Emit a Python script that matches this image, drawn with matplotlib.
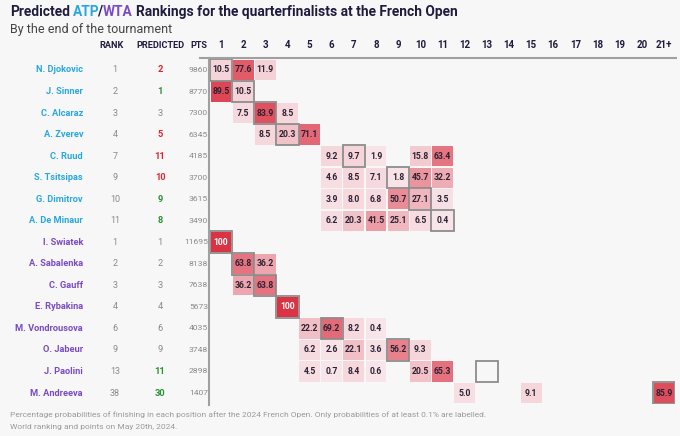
import matplotlib
matplotlib.use("Agg")
import matplotlib.pyplot as plt
from matplotlib.colors import LinearSegmentedColormap
from matplotlib.patches import Rectangle
from matplotlib.lines import Line2D
from matplotlib.transforms import blended_transform_factory

# data
players = ["N. Djokovic", "J. Sinner", "C. Alcaraz", "A. Zverev", "C. Ruud", "S. Tsitsipas",
           "G. Dimitrov", "A. De Minaur", "I. Swiatek", "A. Sabalenka", "C. Gauff", "E. Rybakina",
           "M. Vondrousova", "O. Jabeur", "J. Paolini", "M. Andreeva"]
tour = ["ATP"] * 8 + ["WTA"] * 8
rank = [1, 2, 3, 4, 7, 9, 10, 11, 1, 2, 3, 4, 6, 9, 13, 38]
predicted = [2, 1, 3, 5, 11, 10, 9, 8, 1, 2, 3, 4, 6, 9, 11, 30]
points = [9860, 8770, 7300, 6345, 4185, 3700, 3615, 3490, 11695, 8138, 7638, 5673, 4035, 3748, 2898, 1407]
positions = [str(i) for i in range(1, 21)] + ["21+"]

# probabilities: {position: pct} per player
probs = [
    {1: 10.5, 2: 77.6, 3: 11.9},
    {1: 89.5, 2: 10.5},
    {2: 7.5, 3: 83.9, 4: 8.5},
    {3: 8.5, 4: 20.3, 5: 71.1},
    {6: 9.2, 7: 9.7, 8: 1.9, 10: 15.8, 11: 63.4},
    {6: 4.6, 7: 8.5, 8: 7.1, 9: 1.8, 10: 45.7, 11: 32.2},
    {6: 3.9, 7: 8.0, 8: 6.8, 9: 50.7, 10: 27.1, 11: 3.5},
    {6: 6.2, 7: 20.3, 8: 41.5, 9: 25.1, 10: 6.5, 11: 0.4},
    {1: 100.0},
    {2: 63.8, 3: 36.2},
    {2: 36.2, 3: 63.8},
    {4: 100.0},
    {5: 22.2, 6: 69.2, 7: 8.2, 8: 0.4},
    {5: 6.2, 6: 2.6, 7: 22.1, 8: 3.6, 9: 56.2, 10: 9.3},
    {5: 4.5, 6: 0.7, 7: 8.4, 8: 0.6, 10: 20.5, 11: 65.3},
    {12: 5.0, 15: 9.1, 21: 85.9},
]

plt.rcParams["font.family"] = ["Roboto", "DejaVu Sans"]

BG = "#f7f7f7"
DARK = "#1f1b3d"
ATP_C = "#29a8e0"
WTA_C = "#7a4cc4"
GREY = "#8a8a8a"
cmap = LinearSegmentedColormap.from_list("pinkred", ["#f8e6ea", "#da3444"])

W, H = 680, 436
fig = plt.figure(figsize=(W / 100, H / 100), dpi=100, facecolor=BG)


def fx(px):
    return px / W


def fy(py):
    return 1 - py / H


# heatmap axes: col 1 centre ~221px, col 21+ centre ~664px; rows 70..393px
cw = (664 - 221) / 20
rh = (393 - 70) / 15
ax = fig.add_axes([fx(221 - cw / 2), fy(393 + rh / 2), fx(cw * 21), (rh * 16) / H])
ax.set_facecolor(BG)
ax.set_xlim(-0.5, 20.5)
ax.set_ylim(15.5, -0.5)
for s in ax.spines.values():
    s.set_visible(False)
ax.xaxis.tick_top()
ax.set_xticks(range(len(positions)))
ax.set_xticklabels(positions, fontsize=7, fontweight="bold", color=DARK)
ax.tick_params(axis="x", length=0, pad=6.5)
ax.set_yticks([])

for r, row in enumerate(probs):
    for pos, v in row.items():
        c = pos - 1
        ax.add_patch(Rectangle((c - 0.47, r - 0.47), 0.94, 0.94, facecolor=cmap(v / 100), edgecolor="none"))
        ax.text(c, r, f"{v:g}" if v >= 100 else f"{v:.1f}", ha="center", va="center",
                fontsize=6.2, fontweight="bold", color="white" if v >= 99 else "#2b2233")
    # outline at the current world ranking
    c = min(rank[r], 21) - 1
    ax.add_patch(Rectangle((c - 0.5, r - 0.5), 1, 1, facecolor="none", edgecolor="#8c8c8c", lw=1.3, zorder=3))

# left table
tr = blended_transform_factory(fig.transFigure, ax.transData)
for r in range(len(players)):
    ax.text(fx(83), r, players[r], transform=tr, ha="right", va="center", fontsize=6.7,
            fontweight="bold", color=ATP_C if tour[r] == "ATP" else WTA_C)
    ax.text(fx(115), r, str(rank[r]), transform=tr, ha="center", va="center", fontsize=6.5, color=GREY)
    if predicted[r] > rank[r]:
        pc, pw = "#e3242b", "bold"
    elif predicted[r] < rank[r]:
        pc, pw = "#2a9134", "bold"
    else:
        pc, pw = GREY, "normal"
    ax.text(fx(160), r, str(predicted[r]), transform=tr, ha="center", va="center", fontsize=6.7,
            color=pc, fontweight=pw)
    ax.text(fx(208), r, str(points[r]), transform=tr, ha="right", va="center", fontsize=6.1, color=GREY)

for label, x, ha in [("RANK", 112, "center"), ("PREDICTED", 160, "center"), ("PTS", 207, "right")]:
    fig.text(fx(x), fy(45), label, ha=ha, va="center", fontsize=6.6, fontweight="bold", color=DARK)

# rules
fig.add_artist(Line2D([fx(200), fx(676)], [fy(58), fy(58)], color="#a0a0a0", lw=1.5))
fig.add_artist(Line2D([fx(209), fx(209)], [fy(58), fy(405)], color="#a0a0a0", lw=1.5))

# multi-coloured title
pieces = [("Predicted ", DARK), ("ATP", ATP_C), ("/", DARK), ("WTA", WTA_C),
          (" Rankings for the quarterfinalists at the French Open", DARK)]
title_kw = dict(va="center", fontsize=9.9, fontweight="bold")
renderer = fig.canvas.get_renderer()


def ink(s):
    # matplotlib measures the inked width, so pad with flat-sided H's to get advances
    t = fig.text(0, 0, s, **title_kw)
    w = t.get_window_extent(renderer).width
    t.remove()
    return w


def advance(s):
    return ink("H" + s + "H") - ink("HH")


def left_bearing(s):
    # ink left of s relative to that of "H"
    return ink("H" + s.strip()) - ink("HH") + ink("H") - ink(s.strip())


lb0 = left_bearing(pieces[0][0])
prefix = ""
for i, (txt, col) in enumerate(pieces):
    lead = len(txt) - len(txt.lstrip())
    start = advance(prefix + " " * lead) + left_bearing(txt) - lb0 if prefix else 0
    if i >= 2:
        start -= 2.5  # P/ pair sits tighter in the full string than measured
    fig.text(fx(10 + start), fy(12), txt.strip(), ha="left", color=col, **title_kw)
    prefix += txt
fig.text(fx(10), fy(29), "By the end of the tournament", ha="left", va="center", fontsize=9.0, color="#444444")

fig.text(fx(10), fy(415), "Percentage probabilities of finishing in each position after the 2024 French Open. "
         "Only probabilities of at least 0.1% are labelled.", ha="left", va="center", fontsize=6.0, color="#9a9a9a")
fig.text(fx(10), fy(427), "World ranking and points on May 20th, 2024.", ha="left", va="center",
         fontsize=6.0, color="#9a9a9a")

fig.savefig("out.png", dpi=100, facecolor=BG)
